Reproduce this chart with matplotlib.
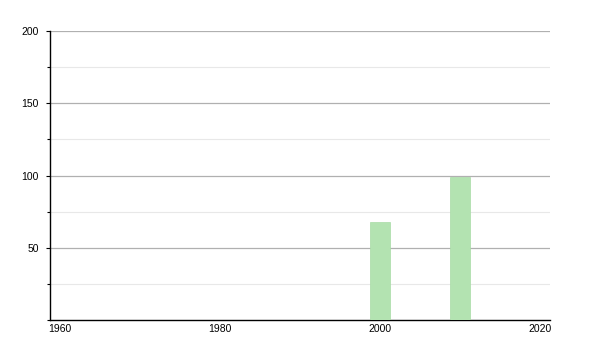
from matplotlib import pyplot as plt
from matplotlib.ticker import MultipleLocator

years = [2000, 2010]
values = [68, 99]
x_ticks = [1960, 1980, 2000, 2020]
y_ticks = [50, 100, 150, 200]

plt.rcParams['font.family'] = ['Liberation Sans', 'DejaVu Sans']

fig = plt.figure(figsize=(6, 3.5), dpi=100)
ax = fig.add_axes([50 / 600, 30 / 350, 500 / 600, 289 / 350])

ax.bar(years, values, width=2.6, color='#b3e3b1', edgecolor='#a8dba6', linewidth=0.5, zorder=3)

ax.set_xlim(1958.75, 2021.25)
ax.set_ylim(0, 200)
ax.set_xticks(x_ticks)
ax.set_yticks(y_ticks)
ax.yaxis.set_minor_locator(MultipleLocator(25))

ax.grid(axis='y', which='major', color='#b0b0b0', linewidth=0.9, zorder=0)
ax.grid(axis='y', which='minor', color='#e8e8e8', linewidth=0.8, zorder=0)

ax.spines['top'].set_visible(False)
ax.spines['right'].set_visible(False)
ax.spines['left'].set_color('black')
ax.spines['bottom'].set_color('black')
ax.spines['left'].set_linewidth(1.0)
ax.spines['bottom'].set_linewidth(1.0)

ax.tick_params(axis='x', length=0, labelsize=7.5, pad=3)
ax.tick_params(axis='y', which='major', length=3, width=0.8, labelsize=7.5, pad=5)
ax.tick_params(axis='y', which='minor', length=2, width=0.8)

fig.savefig('out.png', dpi=100)
